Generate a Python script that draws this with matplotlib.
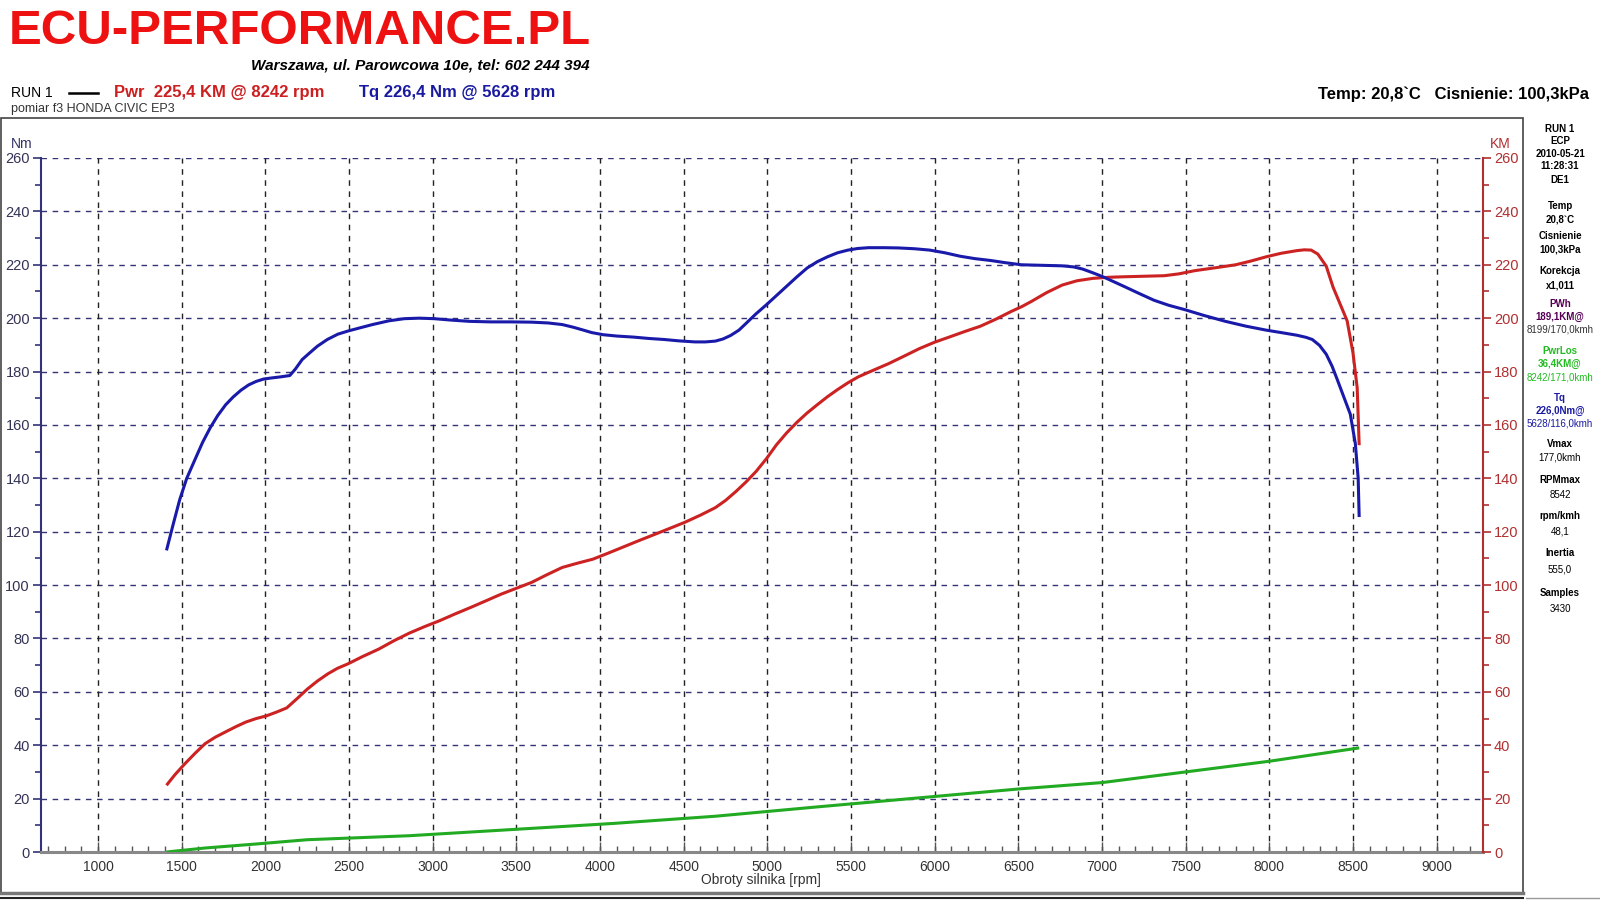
import matplotlib
matplotlib.use("Agg")
import matplotlib.pyplot as plt
from matplotlib.patches import Rectangle
from matplotlib.lines import Line2D
import numpy as np

# ---------------- data ----------------
tq_rpm = [1409, 1450, 1488, 1530, 1579, 1625, 1671, 1715, 1762, 1808, 1854, 1900, 1945,
          1990, 2037, 2090, 2146, 2180, 2220, 2265, 2311, 2370, 2433, 2495, 2555,
          2640, 2738, 2830, 2921, 3010, 3104, 3220, 3348, 3470, 3591, 3690, 3774, 3840, 3896,
          3950, 4018, 4100, 4201, 4290, 4384, 4470, 4567, 4630, 4689, 4735, 4780,
          4830, 4872, 4930, 4994, 5055, 5116, 5177, 5238, 5300, 5360, 5420, 5482, 5540, 5604,
          5700, 5787, 5880, 5970, 6060, 6152, 6240, 6335, 6420, 6518, 6640, 6762,
          6830, 6884, 6945, 7006, 7065, 7128, 7220, 7311, 7400, 7494, 7610, 7738, 7860, 7982,
          8080, 8165, 8220, 8257, 8300, 8340, 8375, 8406, 8445, 8484, 8514, 8531, 8537]
tq_nm = [113, 123, 132, 140, 147, 153.5, 159, 163.5, 167.5, 170.5, 173, 175, 176.3,
         177.2, 177.6, 178, 178.5, 181, 184.5, 187, 189.5, 192, 194, 195.2, 196.2,
         197.6, 199, 199.8, 200, 199.8, 199.3, 198.8, 198.6, 198.6, 198.5, 198.2, 197.6, 196.6, 195.6,
         194.6, 193.8, 193.3, 192.9, 192.4, 192, 191.5, 191.1, 191.1, 191.4, 192.2, 193.5,
         195.5, 198, 201.5, 205, 208.5, 212, 215.5, 218.8, 221.2, 223, 224.5, 225.5, 226.1, 226.4,
         226.4, 226.3, 226, 225.5, 224.5, 223.2, 222.3, 221.6, 220.8, 220, 219.8, 219.6,
         219.2, 218.4, 217, 215.5, 213.8, 212, 209.3, 206.7, 204.8, 203.2, 201, 198.8, 197, 195.5,
         194.5, 193.6, 192.8, 192, 189.8, 186.5, 182, 177, 170.5, 164, 153, 140, 125.5]

pwr_rpm = [1409, 1460, 1518, 1580, 1640, 1700, 1762, 1825, 1884, 1945, 2006, 2070, 2128,
           2190, 2250, 2310, 2372, 2430, 2494, 2580, 2677, 2770, 2860, 2950, 3043,
           3134, 3226, 3318, 3409, 3500, 3591, 3680, 3774, 3865, 3957, 4050, 4140, 4230, 4323,
           4415, 4506, 4600, 4689, 4750, 4811, 4872, 4933, 4995, 5055, 5115, 5177, 5238,
           5299, 5360, 5421, 5482, 5543, 5630, 5726, 5818, 5909, 6000, 6091, 6180, 6274,
           6365, 6457, 6520, 6579, 6670, 6762, 6850, 6945, 7035, 7128, 7250, 7372,
           7460, 7555, 7680, 7799, 7890, 7982, 8070, 8165, 8210, 8250, 8290, 8340, 8381,
           8425, 8465, 8500, 8525, 8537]
pwr_km = [25, 29, 33, 37, 40.6, 43, 45, 47, 48.7, 50, 51, 52.5, 54,
          57.5, 61, 64, 66.7, 68.8, 70.5, 73.2, 76, 79.2, 82, 84.4, 86.7,
          89.2, 91.6, 94.1, 96.6, 98.8, 101, 103.8, 106.6, 108.2, 109.7, 112, 114.3, 116.6, 118.9,
          121.2, 123.5, 126.2, 129, 131.7, 135, 138.6, 142.6, 147.4, 152.6, 157, 161, 164.5,
          167.6, 170.6, 173.3, 175.8, 178, 180.4, 183, 185.8, 188.6, 191, 193, 195, 197,
          199.6, 202.5, 204.3, 206.3, 209.6, 212.4, 214, 214.9, 215.3, 215.5, 215.7, 215.9,
          216.6, 217.8, 218.9, 220, 221.4, 223, 224.3, 225.3, 225.6, 225.5, 224, 219.5, 211.6,
          205, 199, 187, 174, 152.4]

loss_rpm = [1409, 1640, 1945, 2250, 2860, 3470, 4079, 4689, 5299, 5909, 6518, 7000, 7500,
            8000, 8537]
loss_km = [0, 1.5, 3, 4.6, 6.1, 8.4, 10.7, 13.4, 16.9, 20.3, 23.7, 26, 30, 34, 39]

x_ticks = [1000, 1500, 2000, 2500, 3000, 3500, 4000, 4500, 5000, 5500, 6000, 6500, 7000,
           7500, 8000, 8500, 9000]
y_ticks = list(range(0, 261, 20))

side_lines = [
    ("RUN 1", "bold", "black"), ("ECP", "bold", "black"), ("2010-05-21", "bold", "black"),
    ("11:28:31", "bold", "black"), ("DE1", "bold", "black"),
    ("Temp", "bold", "black"), ("20,8`C", "bold", "black"),
    ("Cisnienie", "bold", "black"), ("100,3kPa", "bold", "black"),
    ("Korekcja", "bold", "black"), ("x1,011", "bold", "black"),
    ("PWh", "bold", "#550055"), ("189,1KM@", "bold", "#550055"), ("8199/170,0kmh", "normal", "#333333"),
    ("PwrLos", "bold", "#22bb22"), ("36,4KM@", "bold", "#22bb22"), ("8242/171,0kmh", "normal", "#22bb22"),
    ("Tq", "bold", "#1a1aa0"), ("226,0Nm@", "bold", "#1a1aa0"), ("5628/116,0kmh", "normal", "#1a1aa0"),
    ("Vmax", "bold", "black"), ("177,0kmh", "normal", "black"),
    ("RPMmax", "bold", "black"), ("8542", "normal", "black"),
    ("rpm/kmh", "bold", "black"), ("48,1", "normal", "black"),
    ("Inertia", "bold", "black"), ("555,0", "normal", "black"),
    ("Samples", "bold", "black"), ("3430", "normal", "black"),
]
side_y = [129, 141, 154, 166, 180, 206, 219, 236, 249, 271, 285, 304, 317, 330,
          351, 364, 377, 398, 411, 423, 444, 458, 480, 495, 516, 531, 553, 569, 593, 609]

# ---------------- figure ----------------
W, H = 1600, 900
fig = plt.figure(figsize=(16, 9), dpi=100)
fig.patch.set_facecolor("white")

def fx(px):
    return px / W

def fy(py):
    return 1 - py / H

sans = ["Liberation Sans", "DejaVu Sans"]

# outer frame
fig.add_artist(Rectangle((fx(1), fy(893)), fx(1523) - fx(1), fy(118) - fy(893),
                         fill=False, edgecolor="#444444", lw=1.2, transform=fig.transFigure))
fig.add_artist(Line2D([fx(0), fx(1523)], [fy(893), fy(893)], color="#777777", lw=2.5,
                      transform=fig.transFigure))
fig.add_artist(Line2D([fx(0), fx(1523)], [fy(898), fy(898)], color="#222222", lw=1.5,
                      transform=fig.transFigure))
fig.add_artist(Line2D([fx(1526), fx(1600)], [fy(898), fy(898)], color="#999999", lw=1.0,
                      transform=fig.transFigure))

# header
fig.text(fx(9), fy(31), "ECU-PERFORMANCE.PL", color="#ee1111", fontsize=35.5, fontweight="bold",
         family=sans, va="center", ha="left")
fig.text(fx(590), fy(65), "Warszawa, ul. Parowcowa 10e, tel: 602 244 394", color="black",
         fontsize=11, fontweight="bold", style="italic", family=sans, va="center", ha="right")
fig.text(fx(11), fy(93), "RUN 1", color="black", fontsize=10, family=sans, va="center", ha="left")
fig.add_artist(Line2D([fx(69), fx(98)], [fy(93), fy(93)], color="black", lw=1.8,
                      transform=fig.transFigure))
fig.text(fx(114), fy(93), "Pwr  225,4 KM @ 8242 rpm", color="#cc1f1f", fontsize=12,
         fontweight="bold", family=sans, va="center", ha="left")
fig.text(fx(359), fy(93), "Tq 226,4 Nm @ 5628 rpm", color="#1a1aa0", fontsize=12,
         fontweight="bold", family=sans, va="center", ha="left")
fig.text(fx(11), fy(109), "pomiar f3 HONDA CIVIC EP3", color="#333333", fontsize=9,
         family=sans, va="center", ha="left")
fig.text(fx(1589), fy(94), "Temp: 20,8`C   Cisnienie: 100,3kPa", color="black", fontsize=12,
         fontweight="bold", family=sans, va="center", ha="right")

# side panel
for (txt, wt, col), yy in zip(side_lines, side_y):
    fig.text(fx(1560), fy(yy), txt, color=col, fontsize=7, fontweight=wt, family=sans,
             va="center", ha="center")

# axes
ax_l, ax_r = 41, 1483
ax_t, ax_b = 158, 852
ax = fig.add_axes([fx(ax_l), fy(ax_b), fx(ax_r) - fx(ax_l), fy(ax_t) - fy(ax_b)])
ax.set_xlim(659, 9277)
ax.set_ylim(0, 260)
ax2 = ax.twinx()
ax2.set_ylim(0, 260)

navy = "#333377"
redax = "#b03030"

for a in (ax, ax2):
    a.spines["top"].set_visible(False)
ax.spines["left"].set_color(navy)
ax.spines["left"].set_linewidth(1.5)
ax.spines["right"].set_visible(False)
ax2.spines["left"].set_visible(False)
ax2.spines["bottom"].set_visible(False)
ax2.spines["right"].set_color(redax)
ax2.spines["right"].set_linewidth(1.5)
ax.spines["bottom"].set_color("#888888")
ax.spines["bottom"].set_linewidth(2.2)

ax.set_xticks(x_ticks)
ax.set_xticks(np.arange(700, 9277, 100), minor=True)
ax.set_yticks(y_ticks)
ax.set_yticks(np.arange(10, 260, 20), minor=True)
ax2.set_yticks(y_ticks)
ax2.set_yticks(np.arange(10, 260, 20), minor=True)

ax.tick_params(axis="x", which="both", direction="in", colors="#555555", labelcolor="#333333",
               labelsize=10, pad=6)
ax.tick_params(axis="x", which="major", length=7, width=1)
ax.tick_params(axis="x", which="minor", length=4, width=1)
ax.tick_params(axis="y", which="both", direction="out", colors=navy, labelcolor="#333355",
               labelsize=10.5, width=1.2, pad=2)
ax.tick_params(axis="y", which="major", length=6)
ax.tick_params(axis="y", which="minor", length=4)
ax2.tick_params(axis="y", which="both", direction="out", colors=redax, labelcolor=redax,
                labelsize=10.5, width=1.2, pad=2)
ax2.tick_params(axis="y", which="major", length=6)
ax2.tick_params(axis="y", which="minor", length=4)
for lab in ax.get_xticklabels() + ax.get_yticklabels() + ax2.get_yticklabels():
    lab.set_family(sans)

# grid
for yv in y_ticks[1:]:
    ax.axhline(yv, color=navy, lw=1.0, ls=(0, (4, 4)), zorder=1)
for xv in x_ticks:
    ax.axvline(xv, color="#222222", lw=1.0, ls=(0, (4, 4)), zorder=1)

# curves
ax.plot(loss_rpm, loss_km, color="#22aa22", lw=2.2, zorder=3, solid_capstyle="butt",
        solid_joinstyle="round")
ax.plot(pwr_rpm, pwr_km, color="#cc2222", lw=2.2, zorder=3, solid_capstyle="butt",
        solid_joinstyle="round")
ax.plot(tq_rpm, tq_nm, color="#1a1aaa", lw=2.2, zorder=4, solid_capstyle="butt",
        solid_joinstyle="round")

# axis labels
fig.text(fx(22), fy(144), "Nm", color="#333366", fontsize=10, family=sans, ha="center", va="center")
fig.text(fx(1500), fy(144), "KM", color=redax, fontsize=10, family=sans, ha="center", va="center")
fig.text(fx(761), fy(880), "Obroty silnika [rpm]", color="#333333", fontsize=10, family=sans,
         ha="center", va="center")

fig.savefig("out.png", dpi=100)
